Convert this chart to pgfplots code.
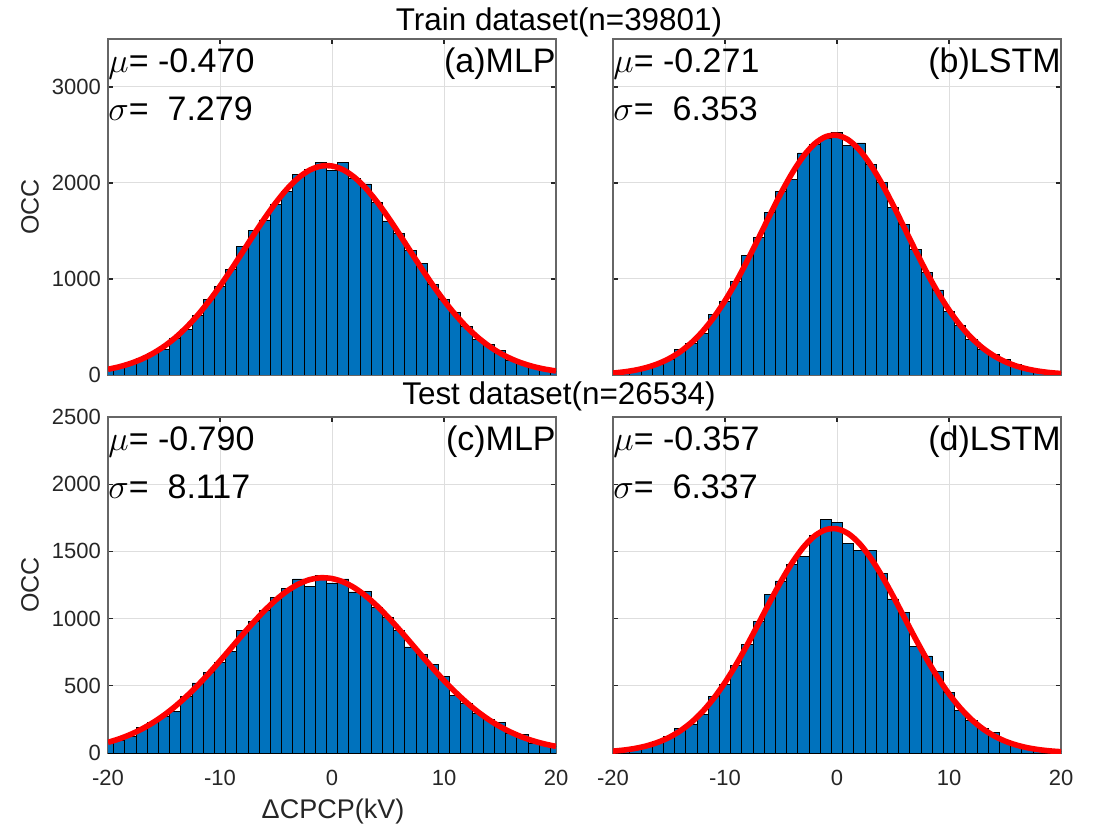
\documentclass[border=0pt]{standalone}
\usepackage{fontspec}
\setmainfont{Liberation Sans}
\usepackage{pgfplots}
\pgfplotsset{compat=1.18}
\definecolor{matblue}{RGB}{0,114,189}
\pgfplotsset{
  hist/.style={
    scale only axis, width=224pt, height=168pt,
    xmin=-20, xmax=20,
    axis line style={black!60, line width=0.8pt},
    tick style={black!85, line width=0.6pt},
    major tick length=2.5pt, tick align=inside,
    xtick={-20,-10,0,10,20},
    grid=major, grid style={black!13, line width=0.5pt},
    tick label style={font=\fontsize{11}{13}\selectfont, text=black!85},
    /pgf/number format/assume math mode=true,
    /pgf/number format/1000 sep={},
    xticklabel style={yshift=-5pt},
  },
  bars/.style={ybar, bar width=1, bar shift=0pt, fill=matblue, draw=black, line width=0.4pt},
  fit/.style={red, line width=2.8pt, smooth},
}
\newcommand{\stats}[3]{%
  \node[anchor=base west, inner sep=0pt, font=\fontsize{17}{19}\selectfont] at (rel axis cs:0,1) [yshift=-16.8pt] {$\mu$= #1};
  \node[anchor=base west, inner sep=0pt, font=\fontsize{17}{19}\selectfont] at (rel axis cs:0,1) [yshift=-40.8pt] {$\sigma$=\ \ #2};
  \node[anchor=base east, inner sep=0pt, font=\fontsize{17}{19}\selectfont] at (rel axis cs:1,1) [yshift=-16.8pt] {#3};
}
\begin{document}
\begin{tikzpicture}
\path[use as bounding box] (0,0) rectangle (550.5pt,414.5pt);

% (a) Train MLP
\begin{axis}[hist, at={(54pt,227pt)}, ymin=0, ymax=3500, ytick={0,1000,2000,3000}, xticklabels={}]
\addplot[bars] coordinates {
(-20,60) (-19,83) (-18,117) (-17,170) (-16,222) (-15,264) (-14,386) (-13,472) (-12,622) (-11,783)
(-10,919) (-9,1100) (-8,1340) (-7,1507) (-6,1615) (-5,1779) (-4,1915) (-3,2085) (-2,2144) (-1,2214)
(0,2131) (1,2217) (2,2043) (3,1990) (4,1796) (5,1605) (6,1476) (7,1301) (8,1162) (9,939)
(10,786) (11,650) (12,508) (13,372) (14,316) (15,257) (16,153) (17,118) (18,83) (19,62) (20,42)};
\addplot[fit] coordinates {
(-20,59.6) (-19,85.4) (-18,120.0) (-17,165.6) (-16,224.1) (-15,297.5) (-14,387.7) (-13,495.9) (-12,622.2) (-11,766.2)
(-10,925.9) (-9,1097.9) (-8,1277.5) (-7,1458.8) (-6,1634.5) (-5,1797.3) (-4,1939.4) (-3,2053.6) (-2,2133.7) (-1,2175.6)
(0,2176.9) (1,2137.4) (2,2059.3) (3,1947.1) (4,1806.5) (5,1644.7) (6,1469.6) (7,1288.4) (8,1108.5) (9,935.8)
(10,775.3) (11,630.3) (12,502.9) (13,393.7) (14,302.5) (15,228.1) (16,168.6) (17,122.4) (18,87.2) (19,61.0) (20,41.8)};
\stats{-0.470}{7.279}{(a)MLP}
\end{axis}

% (b) Train LSTM
\begin{axis}[hist, at={(306.5pt,227pt)}, ymin=0, ymax=3500, ytick={0,1000,2000,3000}, xticklabels={}, yticklabels={}]
\addplot[bars] coordinates {
(-20,22) (-19,33) (-18,50) (-17,72) (-16,106) (-15,165) (-14,262) (-13,324) (-12,435) (-11,633)
(-10,764) (-9,976) (-8,1246) (-7,1433) (-6,1693) (-5,1908) (-4,2036) (-3,2313) (-2,2403) (-1,2462)
(0,2531) (1,2393) (2,2417) (3,2192) (4,2001) (5,1745) (6,1571) (7,1308) (8,1069) (9,886)
(10,660) (11,515) (12,373) (13,269) (14,217) (15,158) (16,106) (17,71) (18,50) (19,35) (20,22)};
\addplot[fit] coordinates {
(-20,20.1) (-19,32.4) (-18,50.9) (-17,78.0) (-16,116.7) (-15,170.1) (-14,242.0) (-13,335.8) (-12,454.7) (-11,600.5)
(-10,773.7) (-9,972.5) (-8,1192.4) (-7,1426.3) (-6,1664.3) (-5,1894.7) (-4,2103.8) (-3,2279.0) (-2,2408.4) (-1,2482.9)
(0,2497.0) (1,2449.8) (2,2344.6) (3,2189.0) (4,1993.8) (5,1771.5) (6,1535.5) (7,1298.3) (8,1071.0) (9,861.7)
(10,676.5) (11,518.1) (12,387.0) (13,282.0) (14,200.5) (15,139.1) (16,94.1) (17,62.1) (18,40.0) (19,25.1) (20,15.4)};
\stats{-0.271}{6.353}{(b)LSTM}
\end{axis}

% (c) Test MLP
\begin{axis}[hist, at={(54pt,38pt)}, ymin=0, ymax=2500, ytick={0,500,1000,1500,2000,2500}]
\addplot[bars] coordinates {
(-20,82) (-19,94) (-18,124) (-17,193) (-16,226) (-15,275) (-14,312) (-13,424) (-12,521) (-11,598)
(-10,672) (-9,756) (-8,913) (-7,980) (-6,1061) (-5,1156) (-4,1223) (-3,1295) (-2,1240) (-1,1324)
(0,1265) (1,1295) (2,1198) (3,1203) (4,1086) (5,1007) (6,913) (7,789) (8,734) (9,657)
(10,570) (11,429) (12,367) (13,298) (14,248) (15,226) (16,144) (17,139) (18,69) (19,64) (20,50)};
\addplot[fit] coordinates {
(-20,79.3) (-19,105.3) (-18,137.8) (-17,177.5) (-16,225.4) (-15,281.7) (-14,346.9) (-13,420.7) (-12,502.5) (-11,591.2)
(-10,685.1) (-9,781.9) (-8,878.9) (-7,973.2) (-6,1061.4) (-5,1140.0) (-4,1206.0) (-3,1256.6) (-2,1289.7) (-1,1303.7)
(0,1297.9) (1,1272.8) (2,1229.3) (3,1169.4) (4,1095.7) (5,1011.2) (6,919.1) (7,822.8) (8,725.6) (9,630.1)
(10,539.0) (11,454.1) (12,376.9) (13,308.1) (14,248.0) (15,196.6) (16,153.5) (17,118.1) (18,89.5) (19,66.8) (20,49.1)};
\stats{-0.790}{8.117}{(c)MLP}
\end{axis}

% (d) Test LSTM
\begin{axis}[hist, at={(306.5pt,38pt)}, ymin=0, ymax=2500, ytick={0,500,1000,1500,2000,2500}, yticklabels={}]
\addplot[bars] coordinates {
(-20,14) (-19,22) (-18,36) (-17,55) (-16,85) (-15,122) (-14,183) (-13,216) (-12,288) (-11,419)
(-10,511) (-9,652) (-8,808) (-7,977) (-6,1183) (-5,1280) (-4,1406) (-3,1461) (-2,1622) (-1,1738)
(0,1716) (1,1560) (2,1505) (3,1505) (4,1337) (5,1146) (6,1047) (7,796) (8,722) (9,605)
(10,451) (11,315) (12,241) (13,181) (14,154) (15,92) (16,60) (17,38) (18,25) (19,15) (20,10)};
\addplot[fit] coordinates {
(-20,13.7) (-19,22.1) (-18,34.6) (-17,53.1) (-16,79.4) (-15,115.7) (-14,164.6) (-13,228.3) (-12,308.8) (-11,407.7)
(-10,524.8) (-9,659.0) (-8,807.1) (-7,964.2) (-6,1123.7) (-5,1277.2) (-4,1416.0) (-3,1531.3) (-2,1615.2) (-1,1661.8)
(0,1667.7) (1,1632.5) (2,1558.8) (3,1451.7) (4,1318.8) (5,1168.5) (6,1009.9) (7,851.5) (8,700.1) (9,561.6)
(10,439.3) (11,335.3) (12,249.5) (13,181.2) (14,128.3) (15,88.6) (16,59.7) (17,39.2) (18,25.2) (19,15.7) (20,9.6)};
\stats{-0.357}{6.337}{(d)LSTM}
\end{axis}

% titles and labels
\node[anchor=base, font=\fontsize{15.7}{17}\selectfont] at (279.5pt,399pt) {Train dataset(n=39801)};
\node[anchor=base, font=\fontsize{15.7}{17}\selectfont] at (279.5pt,212pt) {Test dataset(n=26534)};
\node[rotate=90, font=\fontsize{12.5}{14}\selectfont, text=black!85] at (15pt,311pt) {OCC};
\node[rotate=90, font=\fontsize{12.5}{14}\selectfont, text=black!85] at (15pt,122pt) {OCC};
\node[anchor=base, font=\fontsize{13.5}{15}\selectfont, text=black!85] at (166.5pt,5.5pt) {ΔCPCP(kV)};
\end{tikzpicture}
\end{document}
